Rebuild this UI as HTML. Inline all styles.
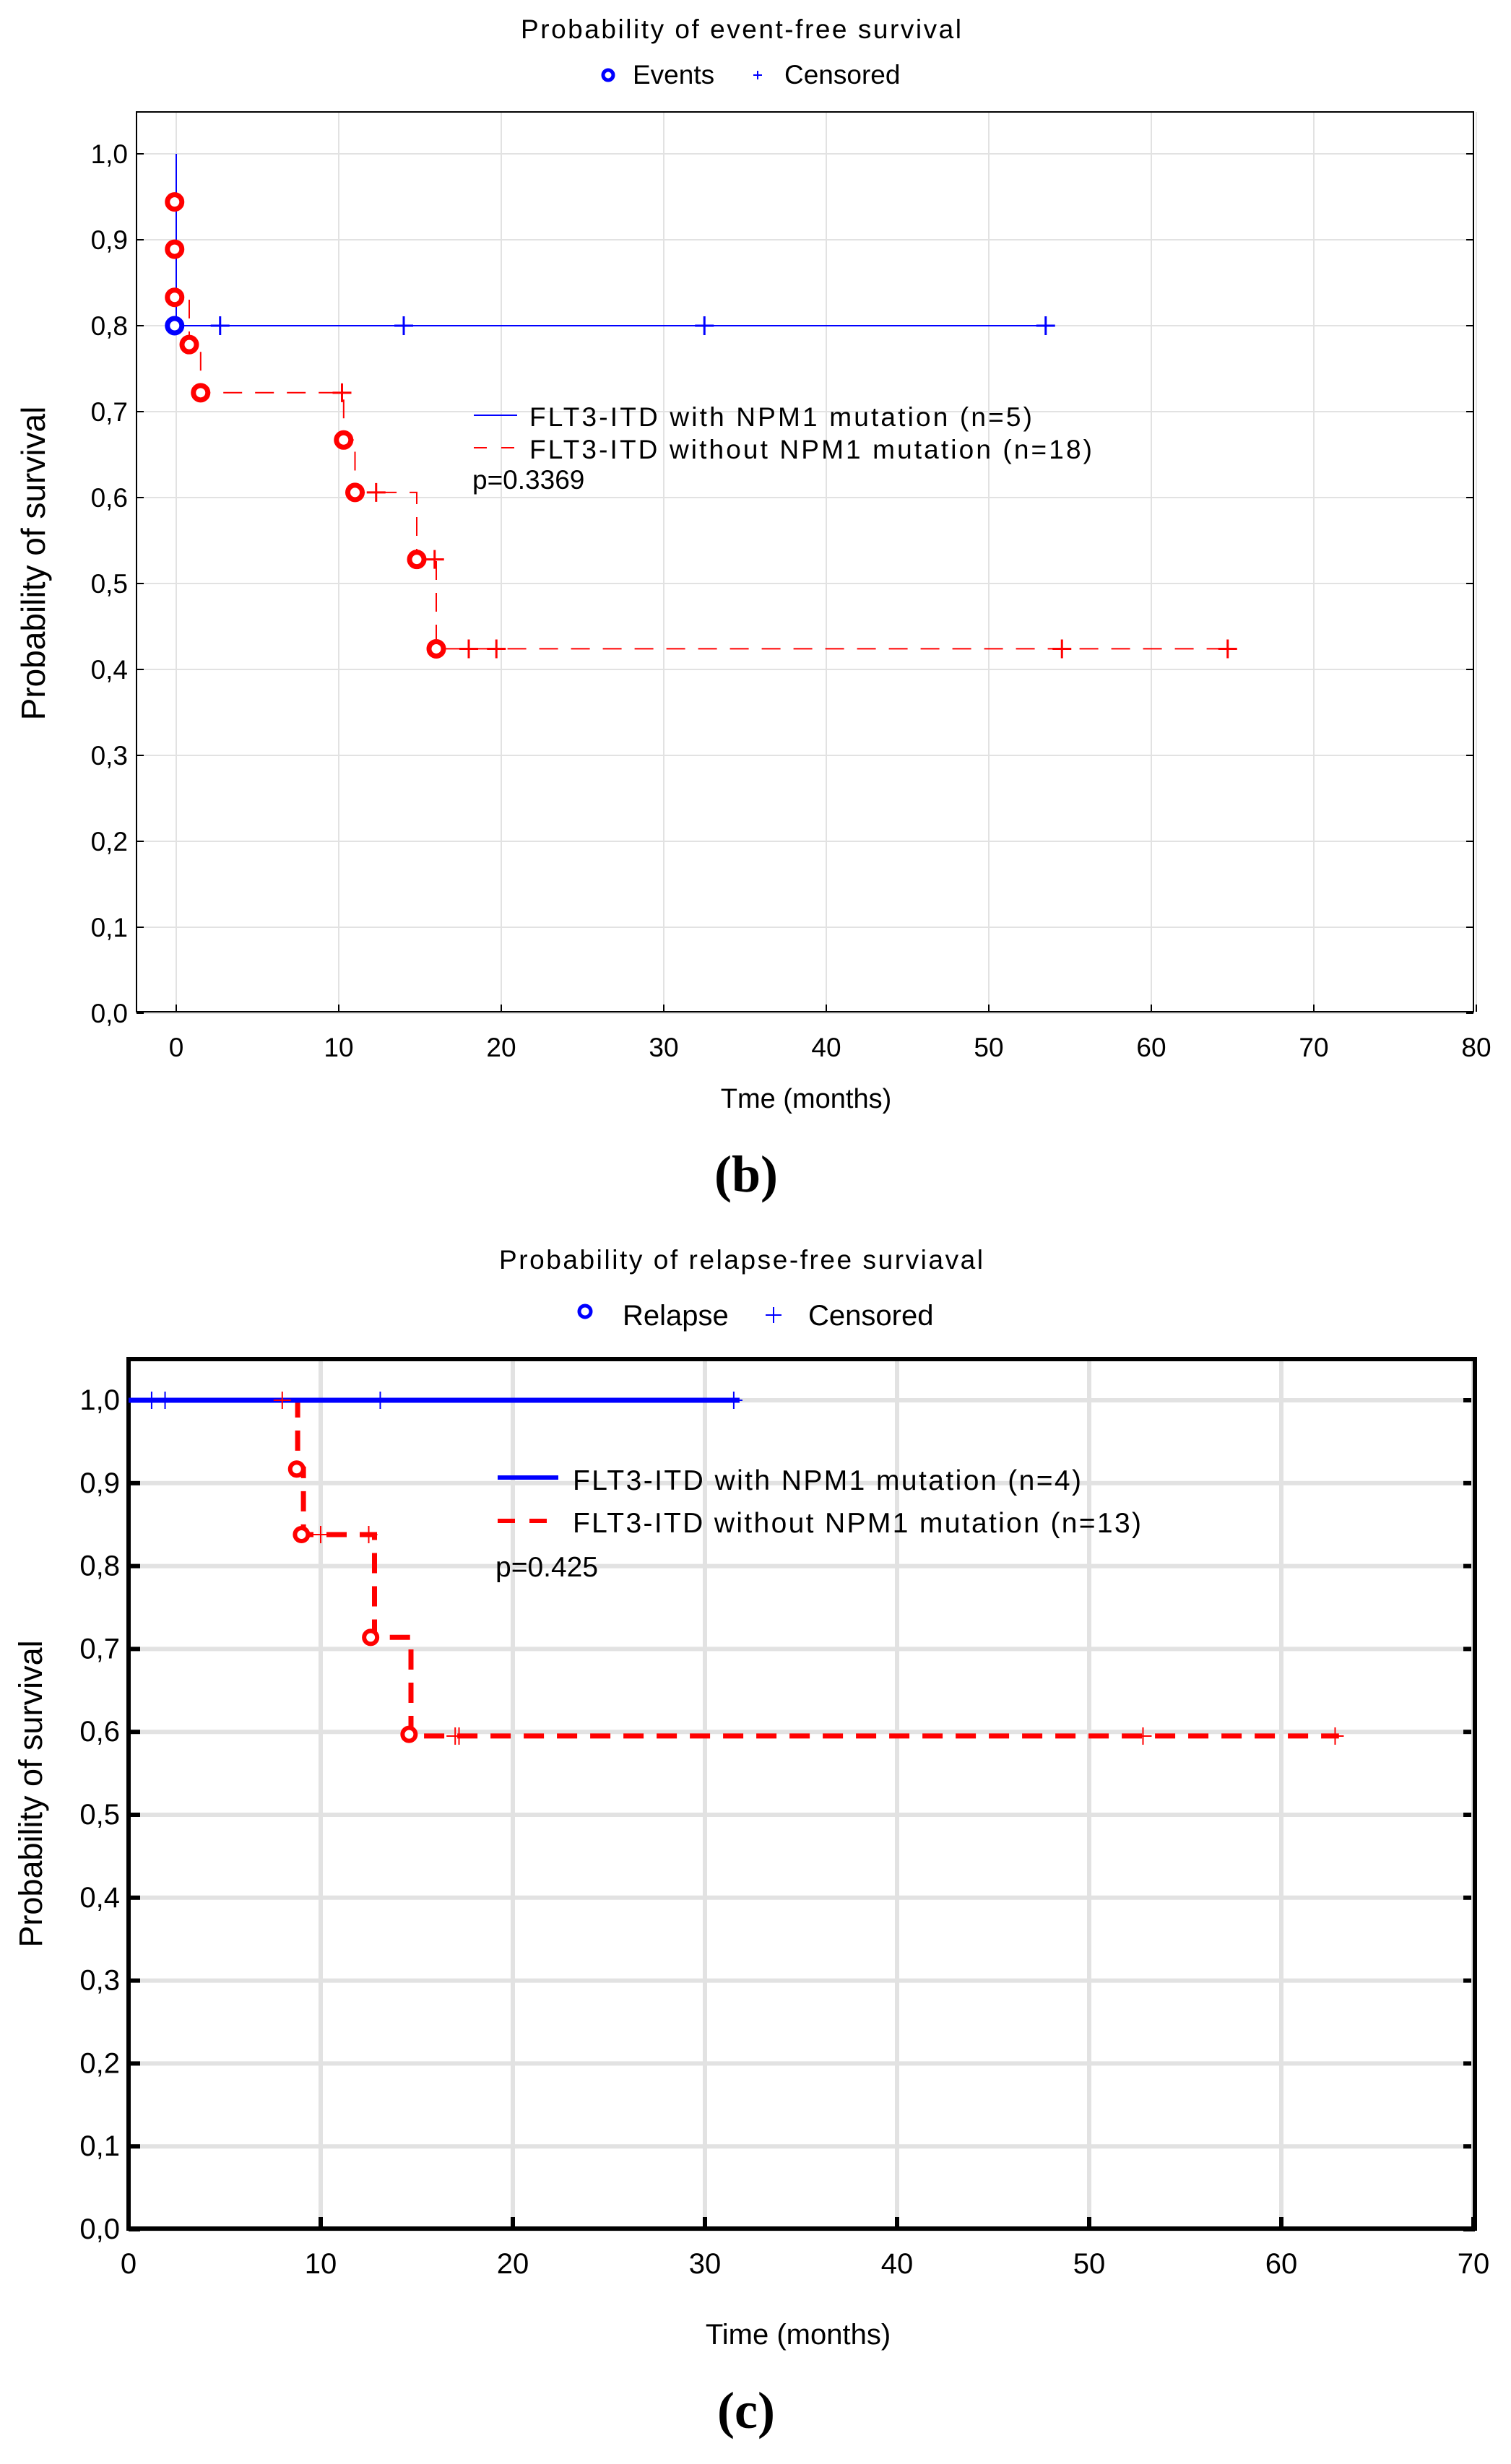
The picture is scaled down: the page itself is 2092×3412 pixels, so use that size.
<!DOCTYPE html>
<html><head><meta charset="utf-8"><style>
html,body{margin:0;padding:0;background:#fff;}
svg{display:block;}
text{font-family:"Liberation Sans",sans-serif;fill:#000;}
</style></head><body>
<svg id="svg" width="2092" height="3412" viewBox="0 0 2092 3412" xmlns="http://www.w3.org/2000/svg">
<g id="chartB"></g>
<g id="chartC"></g>
</svg>
<script>
// ---- Chart (b) data ----
const bBlueSteps = [[0,1.0],[0,0.8],[53.5,0.8]];
const bBlueEvents = [[-0.1,0.8]];
const bBlueCensored = [[2.7,0.8],[14,0.8],[32.5,0.8],[53.5,0.8]];
const bRedSteps = [[0,1.0],[0,0.944],[0,0.889],[0,0.833],[0.8,0.833],[0.8,0.778],[1.5,0.778],[1.5,0.722],[10.3,0.722],[10.3,0.667],[11,0.667],[11,0.606],[14.8,0.606],[14.8,0.528],[16,0.528],[16,0.424],[64.7,0.424]];
const bRedEvents = [[-0.1,0.944],[-0.1,0.889],[-0.1,0.833],[0.8,0.778],[1.5,0.722],[10.3,0.667],[11,0.606],[14.8,0.528],[16,0.424]];
const bRedCensored = [[10.2,0.722],[12.3,0.606],[15.9,0.528],[18,0.424],[19.7,0.424],[54.5,0.424],[64.7,0.424]];
const bXTicks = [0,10,20,30,40,50,60,70,80];
const bYTicks = [0,0.1,0.2,0.3,0.4,0.5,0.6,0.7,0.8,0.9,1.0];
// ---- Chart (c) data ----
const cBlueSteps = [[0,1.0],[31.8,1.0]];
const cBlueCensored = [[1.2,1.0],[1.9,1.0],[13.1,1.0],[31.5,1.0]];
const cRedSteps = [[0,1.0],[8.8,1.0],[8.8,0.917],[9.1,0.917],[9.1,0.838],[12.8,0.838],[12.8,0.714],[14.7,0.714],[14.7,0.595],[63,0.595]];
const cRedEvents = [[8.75,0.917],[9.0,0.838],[12.6,0.714],[14.6,0.597]];
const cRedCensored = [[8,1.0],[10,0.838],[12.5,0.838],[17,0.595],[17.2,0.595],[52.8,0.595],[62.8,0.595]];
const cXTicks = [0,10,20,30,40,50,60,70];
const cYTicks = [0,0.1,0.2,0.3,0.4,0.5,0.6,0.7,0.8,0.9,1.0];

const NS='http://www.w3.org/2000/svg';
function mk(parent,tag,attrs,txt){const e=document.createElementNS(NS,tag);for(const k in attrs)e.setAttribute(k,attrs[k]);if(txt!==undefined)e.textContent=txt;parent.appendChild(e);return e;}

function drawChart(g,cfg){
  const sx=v=>cfg.x0+(v-cfg.xmin)/(cfg.xmax-cfg.xmin)*(cfg.x1-cfg.x0);
  const sy=v=>cfg.y0-v*(cfg.y0-cfg.y1);
  cfg.yTicks.forEach(t=>{
    const l=mk(g,'line',{x1:cfg.fl,x2:cfg.fr,y1:sy(t),y2:sy(t),stroke:'#e2e2e2','stroke-width':cfg.gw});
    
    
    const tx=mk(g,'text',{x:cfg.fl-12,y:sy(t)+13,'font-size':cfg.tf,'text-anchor':'end'},t.toFixed(1).replace('.',','));
    
    
    mk(g,'line',{x1:cfg.fl,x2:cfg.fl+cfg.tk,y1:sy(t),y2:sy(t),stroke:'#000','stroke-width':cfg.fw});
    mk(g,'line',{x1:cfg.fr,x2:cfg.fr-cfg.tk,y1:sy(t),y2:sy(t),stroke:'#000','stroke-width':cfg.fw});
  });
  cfg.xTicks.forEach(t=>{
    const l=mk(g,'line',{x1:sx(t),x2:sx(t),y1:cfg.ft,y2:cfg.fb,stroke:'#e2e2e2','stroke-width':cfg.gw});
    
    
    const tx=mk(g,'text',{x:sx(t),y:cfg.fb+cfg.xtOff,'font-size':cfg.tf,'text-anchor':'middle'},String(t));
    
    
    mk(g,'line',{x1:sx(t),x2:sx(t),y1:cfg.fb,y2:cfg.fb-cfg.tk,stroke:'#000','stroke-width':cfg.fw});
  });
  const fr=mk(g,'rect',{x:cfg.fl,y:cfg.ft,width:cfg.fr-cfg.fl,height:cfg.fb-cfg.ft,fill:'none',stroke:'#000','stroke-width':cfg.fw});
  
  
  const path=pts=>pts.map((p,i)=>(i?'L':'M')+sx(p[0]).toFixed(1)+' '+sy(p[1]).toFixed(1)).join(' ');
  const red=mk(g,'path',{d:path(cfg.redSteps),fill:'none',stroke:'#ff0000','stroke-width':cfg.lw,'stroke-dasharray':cfg.dash});
  
  
  const blue=mk(g,'path',{d:path(cfg.blueSteps),fill:'none',stroke:'#0000ff','stroke-width':cfg.lw});
  
  
  const cross=(p,col,nm)=>{
    const c=mk(g,'path',{d:`M${sx(p[0])-cfg.cs} ${sy(p[1])}H${sx(p[0])+cfg.cs}M${sx(p[0])} ${sy(p[1])-cfg.cs}V${sy(p[1])+cfg.cs}`,stroke:col,'stroke-width':cfg.cw,fill:'none'});
    
    
  };
  cfg.redCensored.forEach(p=>cross(p,'#ff0000','censored-marker-red'));
  cfg.blueCensored.forEach(p=>cross(p,'#0000ff','censored-marker-blue'));
  const circ=(p,col,nm)=>{
    const c=mk(g,'circle',{cx:sx(p[0]),cy:sy(p[1]),r:cfg.cr,fill:'#fff',stroke:col,'stroke-width':cfg.crw});
    
    
  };
  cfg.redEvents.forEach(p=>circ(p,'#ff0000','event-marker-red'));
  cfg.blueEvents.forEach(p=>circ(p,'#0000ff','event-marker-blue'));
}

const gb=document.getElementById('chartB');
drawChart(gb,{xmin:0,xmax:80,x0:244,x1:2044,y0:1403,y1:213,fl:189,fr:2040,ft:155,fb:1401,gw:2,fw:2,tk:10,tf:37,xtOff:62,
  yTicks:bYTicks,xTicks:bXTicks,lw:2,dash:'26 18',cs:13,cw:3,cr:10,crw:7,
  redSteps:bRedSteps,blueSteps:bBlueSteps,redEvents:bRedEvents,blueEvents:bBlueEvents,redCensored:bRedCensored,blueCensored:bBlueCensored});
const gc=document.getElementById('chartC');
drawChart(gc,{xmin:0,xmax:70,x0:178,x1:2040,y0:3087,y1:1939,fl:178,fr:2042,ft:1882,fb:3086,gw:6,fw:6,tk:16,tf:40,xtOff:62,
  yTicks:cYTicks,xTicks:cXTicks,lw:7,dash:'28 18',cs:12,cw:2,cr:9,crw:6,
  redSteps:cRedSteps,blueSteps:cBlueSteps,redEvents:cRedEvents,blueEvents:[],redCensored:cRedCensored,blueCensored:cBlueCensored});
</script>
<svg width="2092" height="3412" style="position:absolute;left:0;top:0" xmlns="http://www.w3.org/2000/svg">
  <text x="1026" y="53" font-size="37" text-anchor="middle" textLength="610">Probability of event-free survival</text>
  <circle cx="842" cy="104" r="7" fill="#fff" stroke="#0000ff" stroke-width="5"/>
  <text x="876" y="116" font-size="37">Events</text>
  <path d="M1043 104h12M1049 98v12" stroke="#0000ff" stroke-width="2"/>
  <text x="1086" y="116" font-size="37">Censored</text>
  <text transform="translate(62,780) rotate(-90)" font-size="46" text-anchor="middle">Probability of survival</text>
  <text x="1116" y="1534" font-size="38" text-anchor="middle">Tme (months)</text>
  <line x1="656" y1="575" x2="716" y2="575" stroke="#0000ff" stroke-width="2"/>
  <line x1="656" y1="620" x2="716" y2="620" stroke="#ff0000" stroke-width="2" stroke-dasharray="18 20"/>
  <text x="733" y="590" font-size="37" textLength="696">FLT3-ITD with NPM1 mutation (n=5)</text>
  <text x="733" y="635" font-size="37" textLength="779">FLT3-ITD without NPM1 mutation (n=18)</text>
  <text x="654" y="677" font-size="37">p=0.3369</text>
  <text x="1033" y="1650" font-size="72" font-weight="bold" text-anchor="middle" style="font-family:'Liberation Serif',serif">(b)</text>
  <text x="1026" y="1757" font-size="37" text-anchor="middle" textLength="670">Probability of relapse-free surviaval</text>
  <circle cx="810" cy="1816" r="8" fill="#fff" stroke="#0000ff" stroke-width="5"/>
  <text x="862" y="1835" font-size="40">Relapse</text>
  <path d="M1060 1821h22M1071 1810v22" stroke="#0000ff" stroke-width="2"/>
  <text x="1119" y="1835" font-size="40">Censored</text>
  <text transform="translate(58,2484) rotate(-90)" font-size="45" text-anchor="middle">Probability of survival</text>
  <text x="1105" y="3246" font-size="40" text-anchor="middle">Time (months)</text>
  <line x1="689" y1="2046" x2="773" y2="2046" stroke="#0000ff" stroke-width="6"/>
  <line x1="689" y1="2106" x2="773" y2="2106" stroke="#ff0000" stroke-width="6" stroke-dasharray="24 20"/>
  <text x="793" y="2063" font-size="39" textLength="704">FLT3-ITD with NPM1 mutation (n=4)</text>
  <text x="793" y="2122" font-size="39" textLength="787">FLT3-ITD without NPM1 mutation (n=13)</text>
  <text x="686" y="2183" font-size="39">p=0.425</text>
  <text x="1033" y="3362" font-size="72" font-weight="bold" text-anchor="middle" style="font-family:'Liberation Serif',serif">(c)</text>
</svg>
</body></html>
